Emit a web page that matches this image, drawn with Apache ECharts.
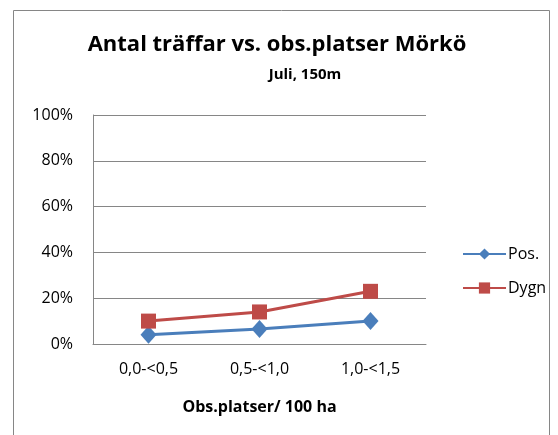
<!DOCTYPE html>
<html>
<head>
<meta charset="utf-8">
<script src="https://cdn.jsdelivr.net/npm/echarts@6/dist/echarts.min.js"></script>
<style>
  html, body { margin: 0; padding: 0; background: #fff; }
  #chart { width: 558px; height: 435px; }
</style>
</head>
<body>
<div id="chart"></div>
<script>
// data
const categories = ['0,0-<0,5', '0,5-<1,0', '1,0-<1,5'];
const posValues = [4, 6.5, 10];
const dygnValues = [10, 14, 23];
const yTicks = [0, 20, 40, 60, 80, 100];

const chart = echarts.init(document.getElementById('chart'));
const font = '"Open Sans", "Liberation Sans", sans-serif';

const option = {
  animation: false,
  backgroundColor: '#fff',
  graphic: [{
    type: 'rect',
    shape: { x: 13.5, y: 10.5, width: 536, height: 440 },
    style: { fill: 'none', stroke: '#868686', lineWidth: 1 }
  }],
  title: [
    {
      text: 'Antal träffar vs. obs.platser Mörkö',
      left: 272,
      textAlign: 'center',
      top: 29,
      textStyle: { fontFamily: font, fontSize: 22, fontWeight: 'bold', color: '#000' }
    },
    {
      text: 'Juli, 150m',
      left: 300,
      textAlign: 'center',
      top: 62,
      textStyle: { fontFamily: font, fontSize: 15, fontWeight: 'bold', color: '#000' }
    }
  ],
  legend: {
    orient: 'vertical',
    left: 457,
    top: 241,
    itemWidth: 43,
    itemHeight: 14,
    itemGap: 18,
    textStyle: { fontFamily: font, fontSize: 16, color: '#000', padding: [0, 0, 0, -3] },
    data: ['Pos.', 'Dygn']
  },
  grid: { left: 93, right: 132, top: 115, bottom: 91 },
  xAxis: {
    type: 'category',
    data: categories,
    name: 'Obs.platser/ 100 ha',
    nameLocation: 'middle',
    nameGap: 55,
    nameTextStyle: { fontFamily: font, fontSize: 16, fontWeight: 'bold', color: '#000' },
    axisLine: { lineStyle: { color: '#868686' } },
    axisTick: { show: false },
    axisLabel: { fontFamily: font, fontSize: 16, color: '#000', margin: 17 }
  },
  yAxis: {
    type: 'value',
    min: yTicks[0],
    max: yTicks[yTicks.length - 1],
    interval: 20,
    axisLine: { show: true, lineStyle: { color: '#868686' } },
    axisTick: { show: false },
    axisLabel: { fontFamily: font, fontSize: 16, color: '#000', formatter: '{value}%', margin: 20 },
    splitLine: { lineStyle: { color: '#868686' } }
  },
  series: [
    {
      name: 'Pos.',
      type: 'line',
      data: posValues,
      symbol: 'diamond',
      symbolSize: [16, 18],
      color: '#4a7ebb',
      lineStyle: { width: 3, color: '#4a7ebb' },
      itemStyle: { color: '#4a7ebb' }
    },
    {
      name: 'Dygn',
      type: 'line',
      data: dygnValues,
      symbol: 'rect',
      symbolSize: 15,
      color: '#be4b48',
      lineStyle: { width: 3, color: '#be4b48' },
      itemStyle: { color: '#be4b48' }
    }
  ]
};

chart.setOption(option);
</script>
</body>
</html>
